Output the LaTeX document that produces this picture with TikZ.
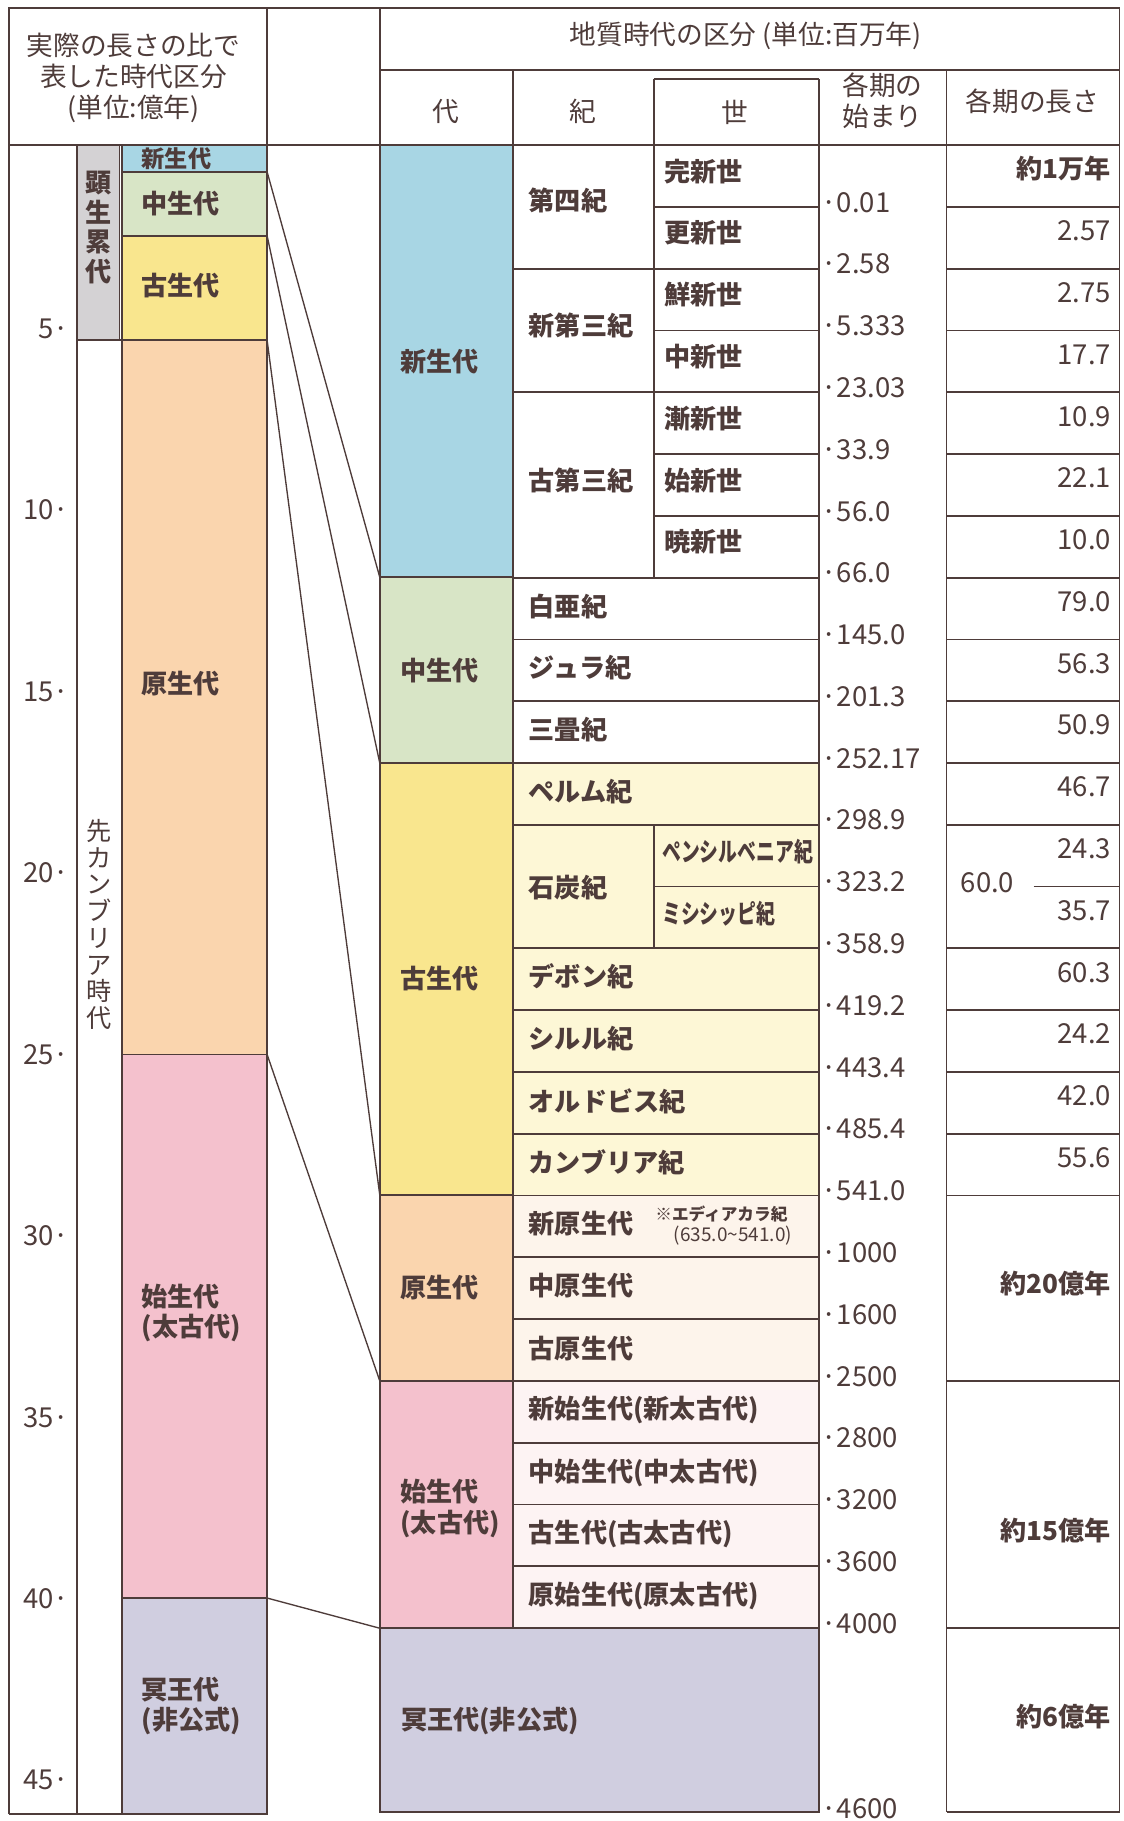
\documentclass[tikz,border=0pt]{standalone}
\usepackage{fontspec}
\setmainfont{Noto Sans CJK JP}
\usepackage{tikz}
\usetikzlibrary{positioning,fit}

\definecolor{ink}{RGB}{78,60,58}
\definecolor{phanC}{RGB}{212,210,212}
\definecolor{cenoC}{RGB}{168,214,228}
\definecolor{mesoC}{RGB}{216,229,198}
\definecolor{paleoC}{RGB}{249,230,142}
\definecolor{paleoP}{RGB}{253,247,214}
\definecolor{proC}{RGB}{250,213,174}
\definecolor{proP}{RGB}{253,244,235}
\definecolor{archC}{RGB}{244,193,205}
\definecolor{archP}{RGB}{253,243,243}
\definecolor{hadC}{RGB}{208,206,224}

\tikzset{
  rule/.style={draw=ink, line width=0.9pt},
  eraBox/.style={rule, inner sep=0pt, outer sep=0pt},
  link/.style={draw=ink, line width=0.7pt},
  lab/.style={font=\bfseries\fontsize{13.5}{15.6}\selectfont, text=ink, inner sep=0pt, align=left},
  num/.style={font=\fontsize{14.2}{16}\selectfont, text=ink, inner sep=0pt},
  head/.style={font=\fontsize{13.8}{16.2}\selectfont, text=ink, align=center, inner sep=0pt},
}

\begin{document}
\begin{tikzpicture}[x=0.6pt,y=-0.6pt]
\useasboundingbox (0,0) rectangle (967,1568);

% left column: eras at their true length
  \node[eraBox, fit={(66,125)(103,293)}, fill=phanC]    (phan)   {};
  \node[eraBox, fit={(66,293)(105,1562)}]               (precam) {};
  \node[eraBox, fit={(105,125)(230,148)}, fill=cenoC]   (Lceno)  {};
  \node[eraBox, fit={(105,148)(230,203)}, fill=mesoC]   (Lmeso)  {};
  \node[eraBox, fit={(105,203)(230,293)}, fill=paleoC]  (Lpaleo) {};
  \node[eraBox, fit={(105,293)(230,908)}, fill=proC]    (Lpro)   {};
  \node[eraBox, fit={(105,908)(230,1376)}, fill=archC]  (Larch)  {};
  \node[eraBox, fit={(105,1376)(230,1562)}, fill=hadC]  (Lhad)   {};

% right table: cell fills and era cells
  \fill[paleoP] (442,657) rectangle (705,1029);
  \fill[proP]   (442,1029) rectangle (705,1189);
  \fill[archP]  (442,1189) rectangle (705,1402);
  \node[eraBox, fit={(327,125)(442,497)}, fill=cenoC]   (Rceno)  {};
  \node[eraBox, fit={(327,497)(442,657)}, fill=mesoC]   (Rmeso)  {};
  \node[eraBox, fit={(327,657)(442,1029)}, fill=paleoC] (Rpaleo) {};
  \node[eraBox, fit={(327,1029)(442,1189)}, fill=proC]  (Rpro)   {};
  \node[eraBox, fit={(327,1189)(442,1402)}, fill=archC] (Rarch)  {};
  \node[eraBox, fit={(327,1402)(705,1560)}, fill=hadC]  (Rhad)   {};

% frame
  \draw[rule] (8,1562) -- (8,7) -- (964,7) -- (964,1560);
  \draw[rule] (8,125) -- (964,125);
  \draw[rule] (8,1562) -- (230,1562);
  \draw[rule] (230,7) -- (230,1562);
  \draw[rule] (327,7) -- (327,1560);
  \draw[rule] (327,60) -- (964,60);
  \draw[rule] (442,60) -- (442,1402);
  \draw[rule] (563,68) -- (705,68);
  \draw[rule] (563,68) -- (563,497);
  \draw[rule] (563,710.2) -- (563,816.6);
  \draw[rule] (705,68) -- (705,1560);
  \draw[rule] (815,60) -- (815,1560);

% row lines (period / epoch)
  \foreach \k/\xs in {1/563,2/442,3/563,4/442,5/563,6/563,7/442,8/442,9/442,10/442,11/442,12/563,
                      13/442,14/442,15/442,16/442,17/442,18/442,19/442,20/442,21/442,22/442,23/442}
    \draw[rule] (\xs,{125+53.2*\k}) -- (705,{125+53.2*\k});
  \foreach \k in {1,...,11,13,14,15,16,17,20,24}
    \draw[rule] (815,{125+53.2*\k}) -- (964,{125+53.2*\k});
  \draw[rule] (815,1560) -- (964,1560);
  \draw[rule] (890,763.4) -- (964,763.4);

% connectors between the two columns
  \draw[link] (Lceno.south east)  -- (Rceno.south west);
  \draw[link] (Lmeso.south east)  -- (Rmeso.south west);
  \draw[link] (Lpaleo.south east) -- (Rpaleo.south west);
  \draw[link] (Lpro.south east)   -- (Rpro.south west);
  \draw[link] (Larch.south east)  -- (Rarch.south west);

% headers
  \node[head] (lhead) at (115,67)  {実際の長さの比で\\表した時代区分\\(単位:億年)};
  \node[head] (rhead) at (642,31)  {地質時代の区分 (単位:百万年)};
  \node[head] (hDai)  at (384,96)  {代};
  \node[head] (hKi)   at (502,96)  {紀};
  \node[head] (hSei)  at (633,97)  {世};
  \node[head] (hBeg)  at (760,87)  {各期の\\始まり};
  \node[head] (hLen)  at (889,87)  {各期の長さ};

% scale
  \foreach \v [count=\i from 0] in {5,10,...,45}
    \node[num, anchor=east] (tick\v) at (60,{283+156.25*\i}) {\v·};
  \node[lab, align=center, font=\bfseries\fontsize{13.5}{15.4}\selectfont] (tPhan) at (85,196) {顕\\生\\累\\代};
  \node[head, font=\fontsize{13}{13.8}\selectfont] (tPre) at (85,796) {先\\カ\\ン\\ブ\\リ\\ア\\時\\代};

% era names, left column
  \node[lab, font=\bfseries\fontsize{12}{13}\selectfont, right=10pt of Lceno.west] (tLceno) {新生代};
  \node[lab, right=10pt of Lmeso.west]               (tLmeso)  {中生代};
  \node[lab, right=10pt of Lpaleo.west, yshift=1pt]  (tLpaleo) {古生代};
  \node[lab, right=10pt of Lpro.west, yshift=7pt]    (tLpro)   {原生代};
  \node[lab, right=10pt of Larch.west, yshift=7pt]   (tLarch)  {始生代\\(太古代)};
  \node[lab, right=10pt of Lhad.west]                (tLhad)   {冥王代\\(非公式)};

% era names, right table
  \node[lab, right=10.5pt of Rceno.west]             (tRceno)  {新生代};
  \node[lab, right=10.5pt of Rmeso.west]             (tRmeso)  {中生代};
  \node[lab, right=10.5pt of Rpaleo.west]            (tRpaleo) {古生代};
  \node[lab, right=10.5pt of Rpro.west]              (tRpro)   {原生代};
  \node[lab, right=10.5pt of Rarch.west, yshift=-2pt] (tRarch) {始生代\\(太古代)};
  \node[lab, anchor=west] (tRhad) at (345,1482) {冥王代(非公式)};

% periods
  \foreach \nm/\yy [count=\i] in {第四紀/173,新第三紀/280,古第三紀/414,白亜紀/522,ジュラ紀/575,三畳紀/628,
      ペルム紀/682,石炭紀/764,デボン紀/841,シルル紀/894,オルドビス紀/948,カンブリア紀/1001,
      新原生代/1054,中原生代/1107,古原生代/1161,新始生代(新太古代)/1214,中始生代(中太古代)/1268,
      古生代(古太古代)/1321,原始生代(原太古代)/1374}
    \node[lab, anchor=west] (per\i) at (455,\yy) {\nm};

% epochs
  \foreach \nm [count=\i from 0] in {完新世,更新世,鮮新世,中新世,漸新世,始新世,暁新世}
    \node[lab, anchor=west] (ep\i) at (572,{125+53.2*(\i+0.5)-4}) {\nm};
  \node[lab, anchor=west] (penn) at (570,733) {\scalebox{0.72}[1]{ペンシルベニア紀}};
  \node[lab, anchor=west] (miss) at (570,787) {\scalebox{0.72}[1]{ミシシッピ紀}};
  \node[lab, anchor=west, font=\bfseries\fontsize{8.6}{10}\selectfont] (edi) at (564,1045) {※エディアカラ紀};
  \node[num, anchor=west, font=\fontsize{9.8}{11}\selectfont] (ediy) at (580,1064) {(635.0\textasciitilde541.0)};

% beginnings
  \foreach \val [count=\k] in {0.01,2.58,5.333,23.03,33.9,56.0,66.0,145.0,201.3,252.17,298.9,323.2,
      358.9,419.2,443.4,485.4,541.0,1000,1600,2500,2800,3200,3600,4000}
    \node[num, anchor=west] (st\k) at (707,{125+53.2*\k-4}) {·\val};
  \node[num, anchor=west] (st25) at (707,1557) {·4600};

% lengths
  \node[lab, anchor=east] (len0) at (957,145) {約1万年};
  \foreach \val [count=\k] in {2.57,2.75,17.7,10.9,22.1,10.0,79.0,56.3,50.9,46.7,24.3,35.7,
      60.3,24.2,42.0,55.6}
    \node[num, anchor=east] (len\k) at (957,{125+53.2*(\k+0.5)-6}) {\val};
  \node[num, anchor=west] (carb) at (827,760) {60.0};
  \node[lab, anchor=east] (lenPro)  at (957,1105) {約20億年};
  \node[lab, anchor=east] (lenArch) at (957,1318) {約15億年};
  \node[lab, anchor=east] (lenHad)  at (957,1478) {約6億年};
\end{tikzpicture}
\end{document}
